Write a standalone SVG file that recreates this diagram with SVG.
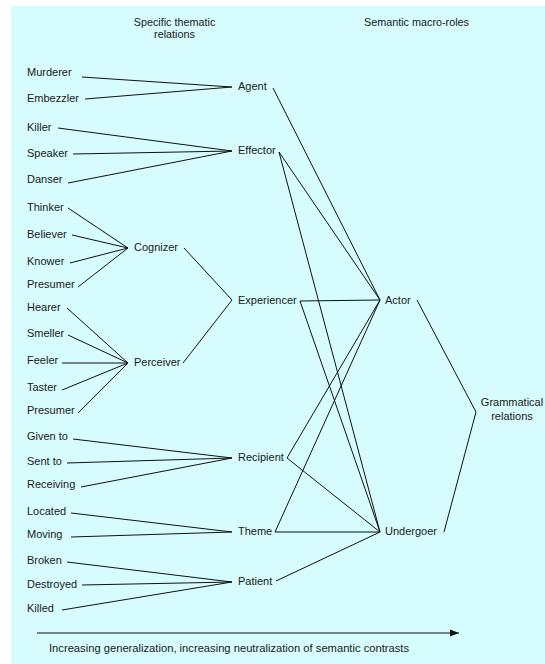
<svg xmlns="http://www.w3.org/2000/svg" width="545" height="664" viewBox="0 0 545 664">
<style>
text{font-family:"Liberation Sans",Arial,sans-serif;font-size:11px;fill:#1a1a1a}
.h{font-size:10.8px}
.cap{font-size:11.2px}
.c{text-anchor:middle}
#connectors line{stroke:#111;stroke-width:1;fill:none}
</style>
<defs>
<marker id="ah" markerWidth="9" markerHeight="8" refX="9" refY="4" orient="auto" markerUnits="userSpaceOnUse">
<path d="M0,0.5 L9,4 L0,7.5 Z" fill="#111"/>
</marker>
</defs>
<rect x="11" y="6" width="534" height="658" fill="#d6fcfd"/>
<g id="headers">
<text class="h c" x="174.5" y="26">Specific thematic</text>
<text class="h c" x="174.5" y="38">relations</text>
<text class="h c" x="416.5" y="26">Semantic macro-roles</text>
</g>
<g id="connectors">
<line x1="82" y1="77" x2="232" y2="87"/>
<line x1="85" y1="99" x2="232" y2="87"/>
<line x1="58" y1="128" x2="232" y2="151"/>
<line x1="73" y1="154" x2="232" y2="151"/>
<line x1="68" y1="183" x2="232" y2="151"/>
<line x1="68" y1="208" x2="128" y2="248"/>
<line x1="72" y1="235" x2="128" y2="248"/>
<line x1="70" y1="263" x2="128" y2="248"/>
<line x1="78" y1="287" x2="128" y2="248"/>
<line x1="67" y1="308" x2="128" y2="363"/>
<line x1="68" y1="335" x2="128" y2="363"/>
<line x1="62" y1="363" x2="128" y2="363"/>
<line x1="62" y1="390" x2="128" y2="363"/>
<line x1="78" y1="413" x2="128" y2="363"/>
<line x1="184" y1="248" x2="232" y2="300"/>
<line x1="183" y1="363" x2="232" y2="300"/>
<line x1="73" y1="439" x2="232" y2="458"/>
<line x1="67" y1="463" x2="232" y2="458"/>
<line x1="81" y1="487" x2="232" y2="458"/>
<line x1="71" y1="513" x2="232" y2="532"/>
<line x1="71" y1="537" x2="232" y2="532"/>
<line x1="67" y1="562" x2="232" y2="582"/>
<line x1="82" y1="585" x2="232" y2="582"/>
<line x1="62" y1="610" x2="232" y2="582"/>
<line x1="273" y1="88" x2="380" y2="300"/>
<line x1="279" y1="152" x2="380" y2="300"/>
<line x1="279" y1="152" x2="380" y2="532"/>
<line x1="300" y1="301" x2="380" y2="300"/>
<line x1="300" y1="301" x2="380" y2="532"/>
<line x1="287" y1="458" x2="380" y2="300"/>
<line x1="287" y1="458" x2="380" y2="532"/>
<line x1="275" y1="532" x2="380" y2="300"/>
<line x1="275" y1="532" x2="380" y2="532"/>
<line x1="276" y1="581" x2="380" y2="532"/>
<line x1="417" y1="300" x2="476" y2="412"/>
<line x1="444" y1="532" x2="476" y2="412"/>
<line x1="37" y1="633" x2="459" y2="633" marker-end="url(#ah)"/>
</g>
<g id="n-murderer"><text x="27" y="76">Murderer</text></g>
<g id="n-embezzler"><text x="27" y="102">Embezzler</text></g>
<g id="n-killer"><text x="27" y="131">Killer</text></g>
<g id="n-speaker"><text x="27" y="157">Speaker</text></g>
<g id="n-danser"><text x="27" y="183">Danser</text></g>
<g id="n-thinker"><text x="27" y="211">Thinker</text></g>
<g id="n-believer"><text x="27" y="238">Believer</text></g>
<g id="n-knower"><text x="27" y="265">Knower</text></g>
<g id="n-presumer1"><text x="27" y="288">Presumer</text></g>
<g id="n-hearer"><text x="27" y="311">Hearer</text></g>
<g id="n-smeller"><text x="27" y="337">Smeller</text></g>
<g id="n-feeler"><text x="27" y="364">Feeler</text></g>
<g id="n-taster"><text x="27" y="391">Taster</text></g>
<g id="n-presumer2"><text x="27" y="414">Presumer</text></g>
<g id="n-givento"><text x="27" y="440">Given to</text></g>
<g id="n-sentto"><text x="27" y="465">Sent to</text></g>
<g id="n-receiving"><text x="27" y="488">Receiving</text></g>
<g id="n-located"><text x="27" y="515">Located</text></g>
<g id="n-moving"><text x="27" y="538">Moving</text></g>
<g id="n-broken"><text x="27" y="564">Broken</text></g>
<g id="n-destroyed"><text x="27" y="588">Destroyed</text></g>
<g id="n-killed"><text x="27" y="612">Killed</text></g>
<g id="n-cognizer"><text x="134" y="251">Cognizer</text></g>
<g id="n-perceiver"><text x="134" y="366">Perceiver</text></g>
<g id="n-agent"><text x="238" y="90">Agent</text></g>
<g id="n-effector"><text x="238" y="154">Effector</text></g>
<g id="n-experiencer"><text x="238" y="304">Experiencer</text></g>
<g id="n-recipient"><text x="238" y="461">Recipient</text></g>
<g id="n-theme"><text x="238" y="535">Theme</text></g>
<g id="n-patient"><text x="238" y="585">Patient</text></g>
<g id="n-actor"><text x="385" y="304">Actor</text></g>
<g id="n-undergoer"><text x="385" y="535">Undergoer</text></g>
<g id="n-grammatical"><text class="c" x="512" y="406">Grammatical</text><text class="c" x="512" y="420">relations</text></g>
<g id="caption"><text class="cap" x="49" y="652">Increasing generalization, increasing neutralization of semantic contrasts</text></g>
</svg>
